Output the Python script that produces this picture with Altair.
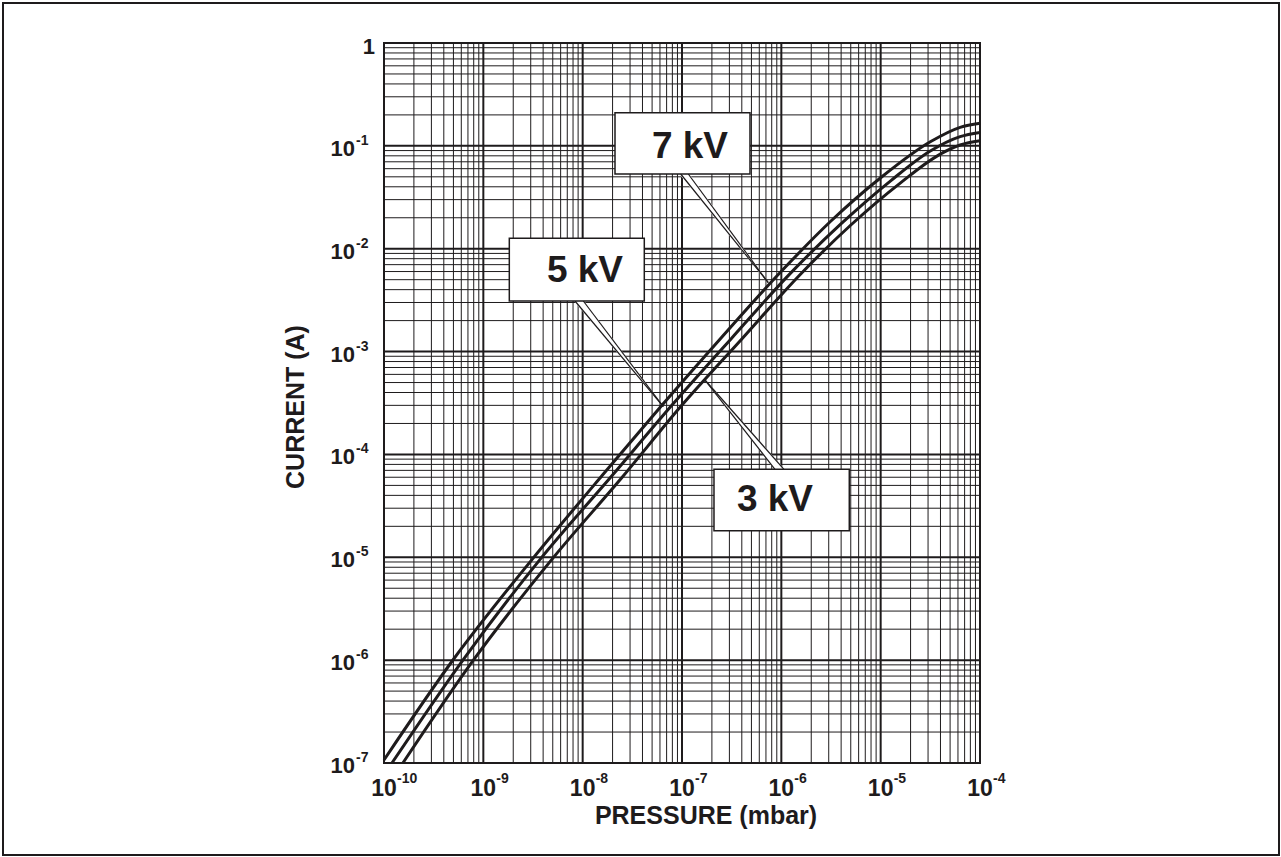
import altair as alt
import pandas as pd

# Ion pump discharge current versus pressure for three anode voltages
pressure_7kv = [1e-10, 5.01e-10, 3.16e-9, 1.585e-8, 6.31e-8, 2.51e-7, 1e-6, 3.16e-6, 1e-5, 3.16e-5, 6.31e-5, 1e-4]
current_7kv = [1.07e-7, 1.02e-6, 9.77e-6, 6.31e-5, 3.02e-4, 1.38e-3, 6.03e-3, 1.86e-2, 4.90e-2, 0.1096, 0.1514, 0.166]

pressure_5kv = [1.202e-10, 6.31e-10, 3.80e-9, 2.0e-8, 7.94e-8, 3.16e-7, 1.26e-6, 3.98e-6, 1.26e-5, 3.16e-5, 6.31e-5, 1e-4]
current_5kv = [1e-7, 1.02e-6, 9.77e-6, 6.31e-5, 3.02e-4, 1.35e-3, 5.89e-3, 1.74e-2, 4.57e-2, 8.91e-2, 0.123, 0.135]

pressure_3kv = [1.549e-10, 7.94e-10, 4.90e-9, 2.51e-8, 1e-7, 3.98e-7, 1.585e-6, 5.01e-6, 1.585e-5, 3.98e-5, 6.31e-5, 1e-4]
current_3kv = [1e-7, 1e-6, 9.55e-6, 6.03e-5, 3.02e-4, 1.32e-3, 5.75e-3, 1.70e-2, 4.37e-2, 8.32e-2, 0.102, 0.112]

# Decade tick labels
x_label_values = [1e-10, 1e-9, 1e-8, 1e-7, 1e-6, 1e-5, 1e-4]
x_label_exps = ["-10", "-9", "-8", "-7", "-6", "-5", "-4"]
y_label_values = [1e-1, 1e-2, 1e-3, 1e-4, 1e-5, 1e-6, 1e-7]
y_label_exps = ["-1", "-2", "-3", "-4", "-5", "-6", "-7"]

# Callout boxes: label, text anchor, box corners, pointer base and tip
callout_text = ["7 kV", "5 kV", "3 kV"]
callout_text_p = [1.203e-7, 1.055e-8, 8.63e-7]
callout_text_i = [0.1, 6.21e-3, 3.686e-5]
box_p1 = [2.116e-8, 1.826e-9, 2.099e-7]
box_p2 = [4.836e-7, 4.173e-8, 4.832e-6]
box_i1 = [0.2101, 0.01263, 7.166e-5]
box_i2 = [0.05326, 3.102e-3, 1.813e-5]
pointer_base_p1 = [9.70e-8, 8.37e-9, 8.63e-7]
pointer_base_p2 = [1.157e-7, 1.015e-8, 1.063e-6]
pointer_base_i = [0.05326, 3.102e-3, 7.166e-5]
pointer_tip_p = [7.39e-7, 6.48e-8, 1.704e-7]
pointer_tip_i = [4.67e-3, 2.911e-4, 5.29e-4]

FONT = "Liberation Sans"
INK = "#1e1b1c"
W, H = 596, 720

x_scale = alt.Scale(type="log", domain=[1e-10, 1e-4], nice=False)
y_scale = alt.Scale(type="log", domain=[1e-7, 1], nice=False)


def X(field):
    return alt.X(field, type="quantitative", scale=x_scale, axis=None)


def Y(field):
    return alt.Y(field, type="quantitative", scale=y_scale, axis=None)


# Log-paper grid: 1..9 per decade, decade lines heavier
gx_rows = [{"p": m * 10.0 ** k, "w": 2.0 if m == 1 else 1.0}
           for k in range(-10, -4) for m in range(1, 10)]
gx_rows.append({"p": 1e-4, "w": 2.0})
gy_rows = [{"i": m * 10.0 ** k, "w": 2.0 if m == 1 else 1.0}
           for k in range(-7, 0) for m in range(1, 10)]
gy_rows.append({"i": 1.0, "w": 2.0})

grid_x = alt.Chart(pd.DataFrame(gx_rows)).mark_rule(color=INK).encode(
    x=X("p"), strokeWidth=alt.StrokeWidth("w:Q", scale=None, legend=None))
grid_y = alt.Chart(pd.DataFrame(gy_rows)).mark_rule(color=INK).encode(
    y=Y("i"), strokeWidth=alt.StrokeWidth("w:Q", scale=None, legend=None))

# Curves
curve_rows = []
for name, ps, cs in [("7 kV", pressure_7kv, current_7kv),
                     ("5 kV", pressure_5kv, current_5kv),
                     ("3 kV", pressure_3kv, current_3kv)]:
    for p, c in zip(ps, cs):
        curve_rows.append({"series": name, "p": p, "i": c})
curves = alt.Chart(pd.DataFrame(curve_rows)).mark_line(
    color=INK, strokeWidth=3, interpolate="monotone").encode(
    x=X("p"), y=Y("i"), detail="series:N")

# Callout pointers: white wedge with black edges
trail_rows = []
edge_rows = []
for k in range(3):
    mid = (pointer_base_p1[k] * pointer_base_p2[k]) ** 0.5
    trail_rows.append({"k": k, "o": 0, "p": mid, "i": pointer_base_i[k], "s": 8})
    trail_rows.append({"k": k, "o": 1, "p": pointer_tip_p[k], "i": pointer_tip_i[k], "s": 0})
    for bp in (pointer_base_p1[k], pointer_base_p2[k]):
        edge_rows.append({"p": bp, "i": pointer_base_i[k],
                          "p2": pointer_tip_p[k], "i2": pointer_tip_i[k]})

pointer_fill = alt.Chart(pd.DataFrame(trail_rows)).mark_trail(color="white").encode(
    x=X("p"), y=Y("i"), detail="k:N", order="o:Q",
    size=alt.Size("s:Q", scale=None, legend=None))
pointer_edges = alt.Chart(pd.DataFrame(edge_rows)).mark_rule(color=INK, strokeWidth=1.2).encode(
    x=X("p"), y=Y("i"), x2="p2:Q", y2="i2:Q")

box_df = pd.DataFrame({"p1": box_p1, "p2": box_p2, "i1": box_i1, "i2": box_i2})
boxes = alt.Chart(box_df).mark_rect(fill="white", stroke=INK, strokeWidth=1.5).encode(
    x=X("p1"), x2="p2:Q", y=Y("i1"), y2="i2:Q")

text_df = pd.DataFrame({"t": callout_text, "p": callout_text_p, "i": callout_text_i})
box_text = alt.Chart(text_df).mark_text(
    font=FONT, fontWeight="bold", fontSize=37, align="center", baseline="middle",
    color=INK, dy=1).encode(x=X("p"), y=Y("i"), text="t:N")

# Tick labels as powers of ten
xlab_df = pd.DataFrame({"p": x_label_values, "e": x_label_exps})
x_base = alt.Chart(xlab_df).mark_text(
    font=FONT, fontWeight="bold", fontSize=23, align="center", baseline="middle",
    color=INK).encode(x=X("p"), y=alt.value(H + 26), text=alt.value("10"))
x_sup = alt.Chart(xlab_df).mark_text(
    font=FONT, fontWeight="bold", fontSize=14, align="left", baseline="middle",
    color=INK, dx=13).encode(x=X("p"), y=alt.value(H + 16), text="e:N")

ylab_df = pd.DataFrame({"i": y_label_values, "e": y_label_exps})
y_base = alt.Chart(ylab_df).mark_text(
    font=FONT, fontWeight="bold", fontSize=22, align="right", baseline="middle",
    color=INK, dy=3).encode(x=alt.value(-29), y=Y("i"), text=alt.value("10"))
y_sup = alt.Chart(ylab_df).mark_text(
    font=FONT, fontWeight="bold", fontSize=14, align="left", baseline="middle",
    color=INK, dy=-5).encode(x=alt.value(-28), y=Y("i"), text="e:N")
y_one = alt.Chart(pd.DataFrame({"i": [1.0], "t": ["1"]})).mark_text(
    font=FONT, fontWeight="bold", fontSize=22, align="right", baseline="middle",
    color=INK, dy=4).encode(x=alt.value(-9), y=Y("i"), text="t:N")

one = pd.DataFrame({"a": [0]})
y_title = alt.Chart(one).mark_text(
    font=FONT, fontWeight="bold", fontSize=25, angle=270, align="center",
    baseline="middle", color=INK).encode(
    x=alt.value(-88), y=alt.value(H / 2 + 4), text=alt.value("CURRENT (A)"))
x_title = alt.Chart(one).mark_text(
    font=FONT, fontWeight="bold", fontSize=25, align="center",
    baseline="middle", color=INK).encode(
    x=alt.value(322), y=alt.value(H + 53), text=alt.value("PRESSURE (mbar)"))

border = alt.Chart(one).mark_rect(
    color="white", fillOpacity=0, stroke=INK, strokeWidth=2).encode(
    x=alt.value(-381), x2=alt.value(895), y=alt.value(-40), y2=alt.value(812))

chart = alt.layer(
    grid_x, grid_y, pointer_fill, pointer_edges, curves, boxes, box_text,
    x_base, x_sup, y_base, y_sup, y_one, y_title, x_title, border
).properties(
    width=W, height=H,
    padding={"left": 384, "top": 43, "right": 301, "bottom": 94},
    autosize=alt.AutoSizeParams(type="none"),
    background="white",
).configure_view(stroke=INK, strokeWidth=2)

chart.save("out.html", embed_options={"renderer": "svg", "actions": False})
